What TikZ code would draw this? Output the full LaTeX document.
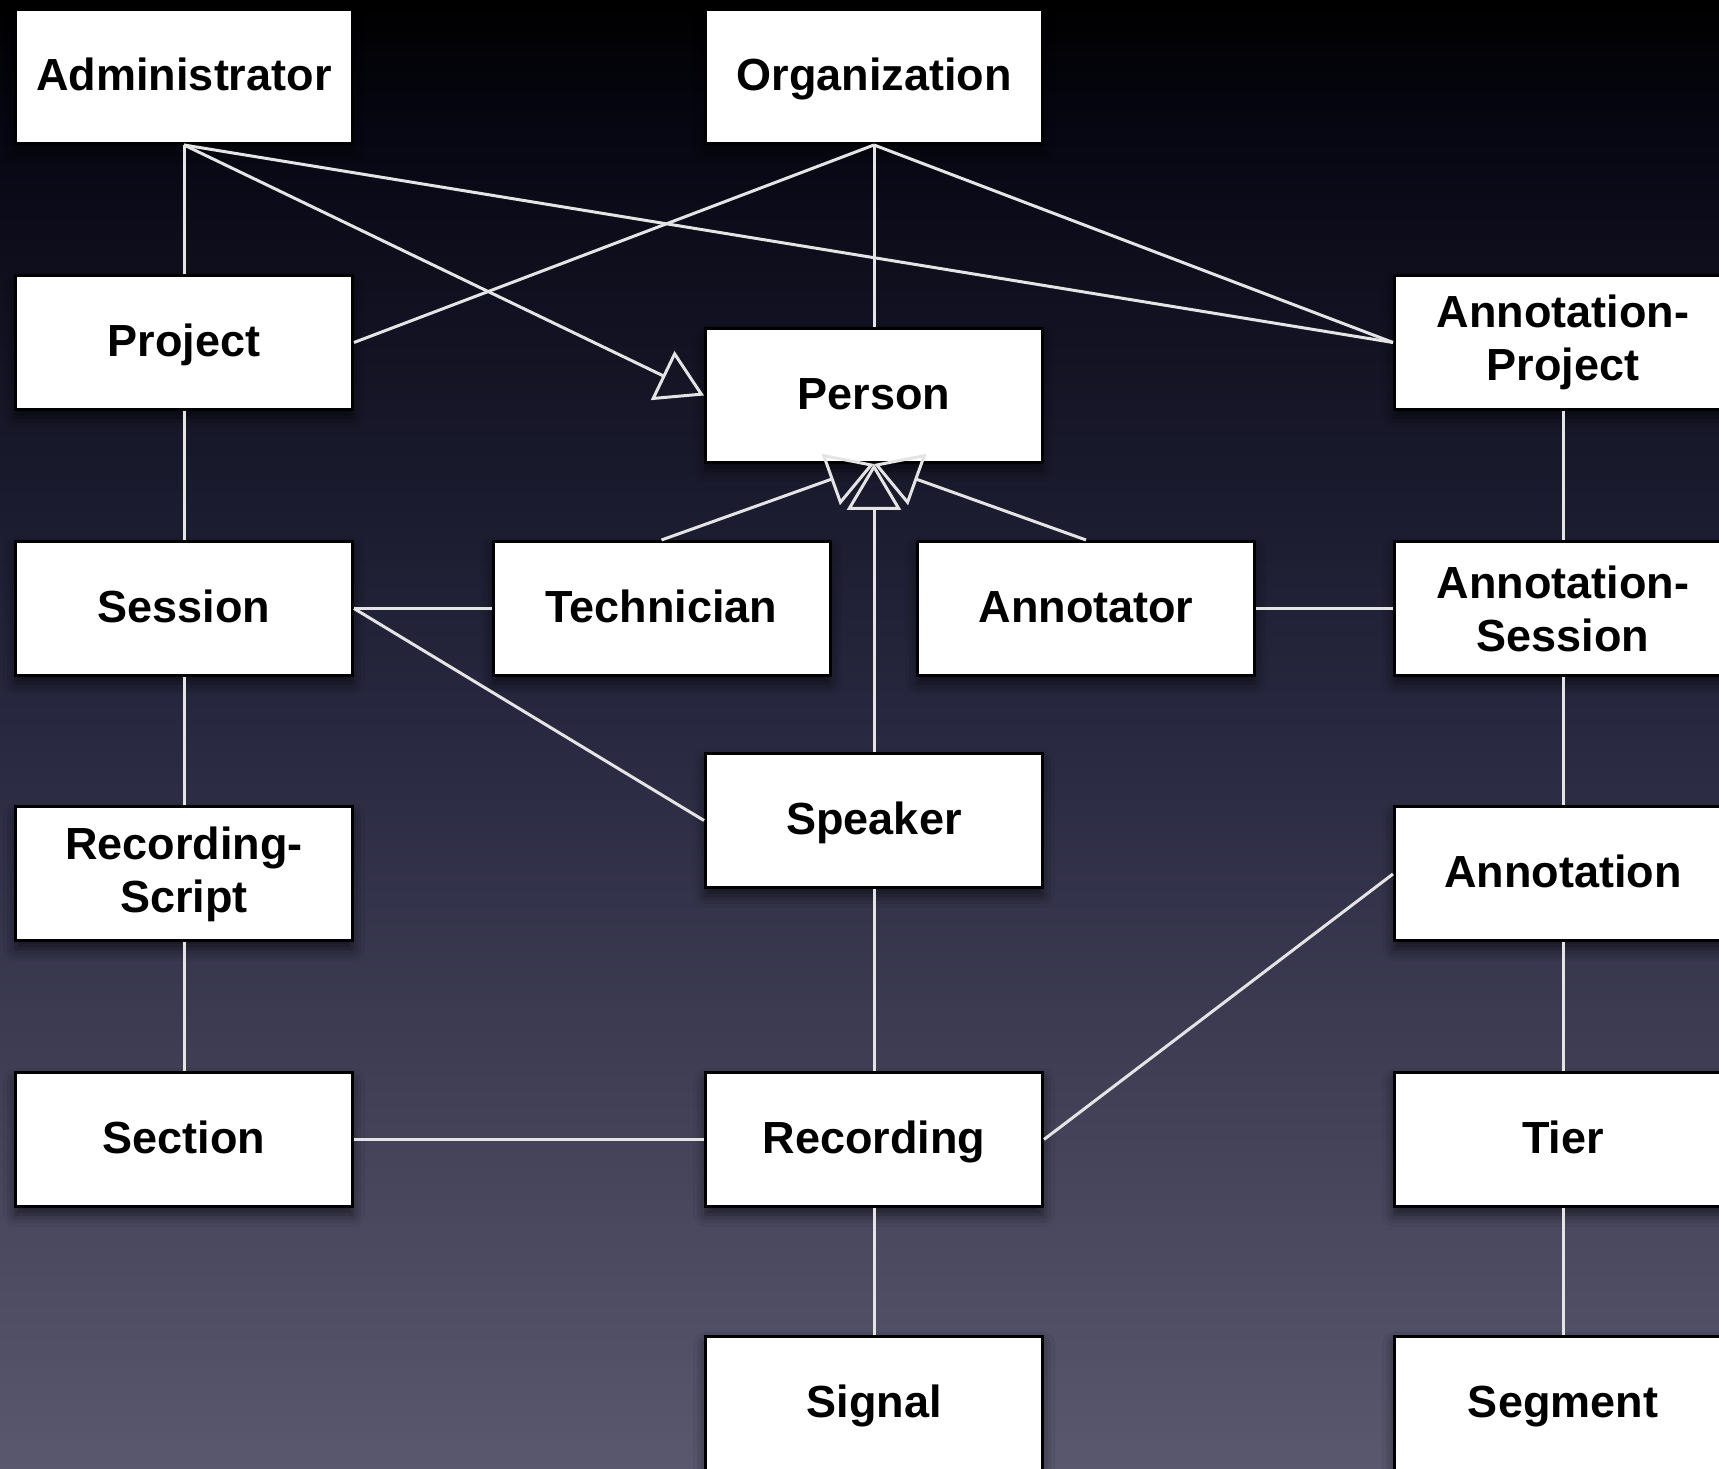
\documentclass[tikz,border=0pt]{standalone}
\usepackage{fontspec}
\setmainfont{Liberation Sans}
\usetikzlibrary{arrows.meta,shadows.blur}
\definecolor{bgA}{RGB}{0,0,0}
\definecolor{bgB}{RGB}{6,6,18}
\definecolor{bgC}{RGB}{38,38,62}
\definecolor{bgD}{RGB}{90,88,110}
\definecolor{linec}{RGB}{228,228,228}
\tikzset{
  box/.style={draw=black, line width=3pt, fill=white, minimum width=337pt, minimum height=134pt,
    inner sep=0pt, font=\bfseries\fontsize{45}{53}\selectfont, align=center,
    blur shadow={shadow xshift=0pt, shadow yshift=-8pt, shadow blur radius=12pt, shadow opacity=60}},
  onel/.style={text height=32pt, text depth=4.5pt},
  conn/.style={draw=linec, line width=3pt},
  gen/.style={conn, -{Triangle[open, length=46pt, width=54pt, line width=3pt]}}
}
\begin{document}
\begin{tikzpicture}[x=1pt,y=1pt]
\useasboundingbox (0,0) rectangle (1719,1469);
\shade[top color=bgA, bottom color=bgB] (0,1349) rectangle (1719,1469);
\shade[top color=bgB, bottom color=bgC] (0,769) rectangle (1719,1349.5);
\shade[top color=bgC, bottom color=bgD] (0,0) rectangle (1719,769.5);

\node[box,onel] (adm) at (184,1392.5) {Administrator};
\node[box,onel] (org) at (874,1392.5) {Organization};
\node[box,onel] (proj) at (184,1126.5) {Project};
\node[box,onel] (person) at (874,1073.5) {Person};
\node[box] (aproj) at (1563,1126.5) {Annotation-\\Project};
\node[box,onel] (sess) at (184,860.5) {Session};
\node[box,onel] (tech) at (661.5,860.5) {Technician};
\node[box,onel] (annot) at (1086,860.5) {Annotator};
\node[box] (asess) at (1563,860.5) {Annotation-\\Session};
\node[box,onel] (speaker) at (874,648.5) {Speaker};
\node[box] (rscript) at (184,595) {Recording-\\Script};
\node[box,onel] (annotation) at (1563,595) {Annotation};
\node[box,onel] (section) at (184,329.5) {Section};
\node[box,onel] (rec) at (874,329.5) {Recording};
\node[box,onel] (tier) at (1563,329.5) {Tier};
\node[box,onel] (signal) at (874,65.5) {Signal};
\node[box,onel] (segment) at (1563,65.5) {Segment};

\draw[conn] (adm.south) -- (proj.north);
\draw[gen] (adm.south) -- (person.west);
\draw[conn] (adm.south) -- (aproj.west);
\draw[conn] (org.south) -- (proj.east);
\draw[conn] (org.south) -- (person.north);
\draw[conn] (org.south) -- (aproj.west);
\draw[conn] (proj.south) -- (sess.north);
\draw[conn] (sess.east) -- (tech.west);
\draw[conn] (sess.east) -- (speaker.west);
\draw[gen] (tech.north) -- (person.south);
\draw[gen] (annot.north) -- (person.south);
\draw[gen] (speaker.north) -- (person.south);
\draw[conn] (annot.east) -- (asess.west);
\draw[conn] (sess.south) -- (rscript.north);
\draw[conn] (rscript.south) -- (section.north);
\draw[conn] (section.east) -- (rec.west);
\draw[conn] (speaker.south) -- (rec.north);
\draw[conn] (rec.east) -- (annotation.west);
\draw[conn] (rec.south) -- (signal.north);
\draw[conn] (aproj.south) -- (asess.north);
\draw[conn] (asess.south) -- (annotation.north);
\draw[conn] (annotation.south) -- (tier.north);
\draw[conn] (tier.south) -- (segment.north);
\end{tikzpicture}
\end{document}
